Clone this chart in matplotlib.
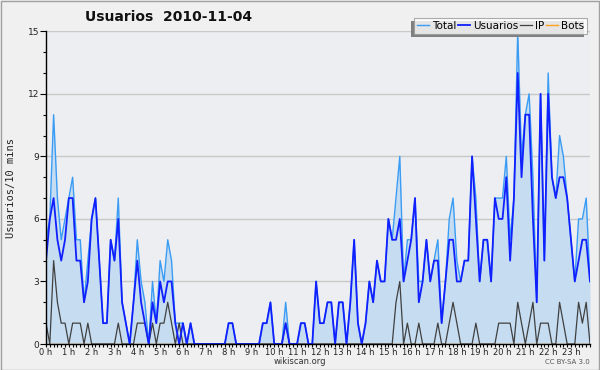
import matplotlib
matplotlib.use("Agg")
import matplotlib.pyplot as plt
from matplotlib.patches import Rectangle
import numpy as np

title = "Usuarios  2010-11-04"
hour_labels = [f"{h} h" for h in range(24)]

usuarios = [4, 6, 7, 5, 4, 5, 7, 7, 4, 4, 2, 3, 6, 7, 4, 1, 1, 5, 4, 6,
            2, 1, 0, 2, 4, 2, 1, 0, 2, 1, 3, 2, 3, 3, 1, 0, 1, 0, 1, 0,
            0, 0, 0, 0, 0, 0, 0, 0, 1, 1, 0, 0, 0, 0, 0, 0, 0, 1, 1, 2,
            0, 0, 0, 1, 0, 0, 0, 1, 1, 0, 0, 3, 1, 1, 2, 2, 0, 2, 2, 0,
            2, 5, 1, 0, 1, 3, 2, 4, 3, 3, 6, 5, 5, 6, 3, 4, 5, 7, 2, 3,
            5, 3, 4, 4, 1, 3, 5, 5, 3, 3, 4, 4, 9, 6, 3, 5, 5, 3, 7, 6,
            6, 8, 4, 7, 13, 8, 11, 11, 6, 2, 12, 4, 12, 8, 7, 8, 8, 7, 5, 3,
            4, 5, 5, 3]

ip = [1, 0, 4, 2, 1, 1, 0, 1, 1, 1, 0, 1, 0, 0, 0, 0, 0, 0, 0, 1,
      0, 0, 0, 0, 1, 1, 1, 0, 1, 0, 1, 1, 2, 1, 0, 1, 0, 0, 0, 0,
      0, 0, 0, 0, 0, 0, 0, 0, 0, 0, 0, 0, 0, 0, 0, 0, 0, 0, 0, 0,
      0, 0, 0, 1, 0, 0, 0, 0, 0, 0, 0, 0, 0, 0, 0, 0, 0, 0, 0, 0,
      0, 0, 0, 0, 0, 0, 0, 0, 0, 0, 0, 0, 2, 3, 0, 1, 0, 0, 1, 0,
      0, 0, 0, 1, 0, 0, 1, 2, 1, 0, 0, 0, 0, 1, 0, 0, 0, 0, 0, 1,
      1, 1, 1, 0, 2, 1, 0, 1, 2, 0, 1, 1, 1, 0, 0, 2, 1, 0, 0, 0,
      2, 1, 2, 0]

total = [5, 6, 11, 7, 5, 6, 7, 8, 5, 5, 2, 4, 6, 7, 4, 1, 1, 5, 4, 7,
         2, 1, 0, 2, 5, 3, 2, 0, 3, 1, 4, 3, 5, 4, 1, 1, 1, 0, 1, 0,
         0, 0, 0, 0, 0, 0, 0, 0, 1, 1, 0, 0, 0, 0, 0, 0, 0, 1, 1, 2,
         0, 0, 0, 2, 0, 0, 0, 1, 1, 0, 0, 3, 1, 1, 2, 2, 0, 2, 2, 0,
         2, 5, 1, 0, 1, 3, 2, 4, 3, 3, 6, 5, 7, 9, 3, 5, 5, 7, 3, 3,
         5, 3, 4, 5, 1, 3, 6, 7, 4, 3, 4, 4, 9, 7, 3, 5, 5, 3, 7, 7,
         7, 9, 5, 7, 15, 9, 11, 12, 8, 2, 12, 4, 13, 8, 7, 10, 9, 7, 5, 3,
         6, 6, 7, 3]

bots = [0] * 144

W, H = 600, 370
fig = plt.figure(figsize=(W / 100, H / 100), dpi=100)
fig.patch.set_facecolor("#f0f0f0")

L, R, T, B = 46, 590, 31.3, 344
ax = fig.add_axes([L / W, 1 - B / H, (R - L) / W, (B - T) / H])
ax.set_facecolor("#eceef1")

x = np.arange(len(total)) / 6.0

ax.fill_between(x, 0, total, color="#c6dcf0", lw=0, zorder=1)
ax.plot(x, total, color="#3a9cf5", lw=1.0, zorder=3, label="Total")
ax.plot(x, usuarios, color="#1020ff", lw=1.3, zorder=5, label="Usuarios")
ax.plot(x, ip, color="#404040", lw=0.9, zorder=4, label="IP")
ax.plot(x, bots, color="#ffa020", lw=1.0, zorder=2, label="Bots")

ax.set_xlim(0, x[-1])
ax.set_ylim(0, 15)

ax.set_yticks([0, 3, 6, 9, 12, 15])
ax.set_yticks(range(16), minor=True)
ax.set_xticks(range(24))
ax.set_xticklabels(hour_labels)
ax.set_xticks(x, minor=True)

ax.yaxis.grid(True, which="major", color="#c8c8c8", lw=1.0, zorder=0)
ax.set_axisbelow(True)

for s in ["top", "right"]:
    ax.spines[s].set_visible(False)
for s in ["left", "bottom"]:
    ax.spines[s].set_color("black")
    ax.spines[s].set_linewidth(1.0)
    ax.spines[s].set_zorder(6)

ax.tick_params(axis="y", which="major", direction="out", length=4,
               width=0.8, labelsize=6.5, colors="black", labelcolor="#222222", pad=1)
ax.tick_params(axis="y", which="minor", direction="out", length=2.5, width=0.8)
ax.tick_params(axis="x", which="major", direction="out", length=2.3, width=0.8,
               labelsize=6, labelcolor="#222222", pad=0.5)
ax.tick_params(axis="x", which="minor", direction="out", length=2.3, width=0.8)

ax.set_ylabel("Usuarios/10 mins", family="DejaVu Sans Mono", fontsize=7.5,
              color="#222222", labelpad=8)

fig.text(85 / W, 1 - 17 / H, title, fontsize=10, fontweight="bold",
         ha="left", va="center", color="#111111")

fig.text(300 / W, 1 - 361.5 / H, "wikiscan.org", fontsize=6, ha="center",
         va="center", color="#333333")
fig.text(590 / W, 1 - 362 / H, "CC BY-SA 3.0", fontsize=5, ha="right",
         va="center", color="#555555")

handles, labels = ax.get_legend_handles_labels()
leg = fig.legend(handles, labels, loc="upper right", ncol=4,
                 bbox_to_anchor=(587 / W, 1 - 17.5 / H),
                 fontsize=7.5, frameon=True, fancybox=False, shadow=False,
                 handlelength=1.1, handletextpad=0.3, columnspacing=0.2,
                 borderpad=0.3, borderaxespad=0)
leg.get_frame().set_edgecolor("#999999")
leg.get_frame().set_facecolor("white")
leg.get_frame().set_linewidth(0.8)
leg.set_zorder(10)

fig.canvas.draw()
bb = leg.get_window_extent()
inv = fig.transFigure.inverted()
(x0, y0) = inv.transform((bb.x0 - 3, bb.y0 - 3))
(x1, y1) = inv.transform((bb.x1 - 3, bb.y1 - 3))
fig.patches.append(Rectangle((x0, y0), x1 - x0, y1 - y0, transform=fig.transFigure,
                             facecolor="#808080", edgecolor="none", zorder=9))

fig.patches.append(Rectangle((0.5 / W, 0.5 / H), 1 - 1.5 / W, 1 - 1.5 / H,
                             transform=fig.transFigure, fill=False,
                             edgecolor="#a0a0a0", lw=1.0, zorder=20))

fig.savefig("out.png", dpi=100, facecolor=fig.get_facecolor())
